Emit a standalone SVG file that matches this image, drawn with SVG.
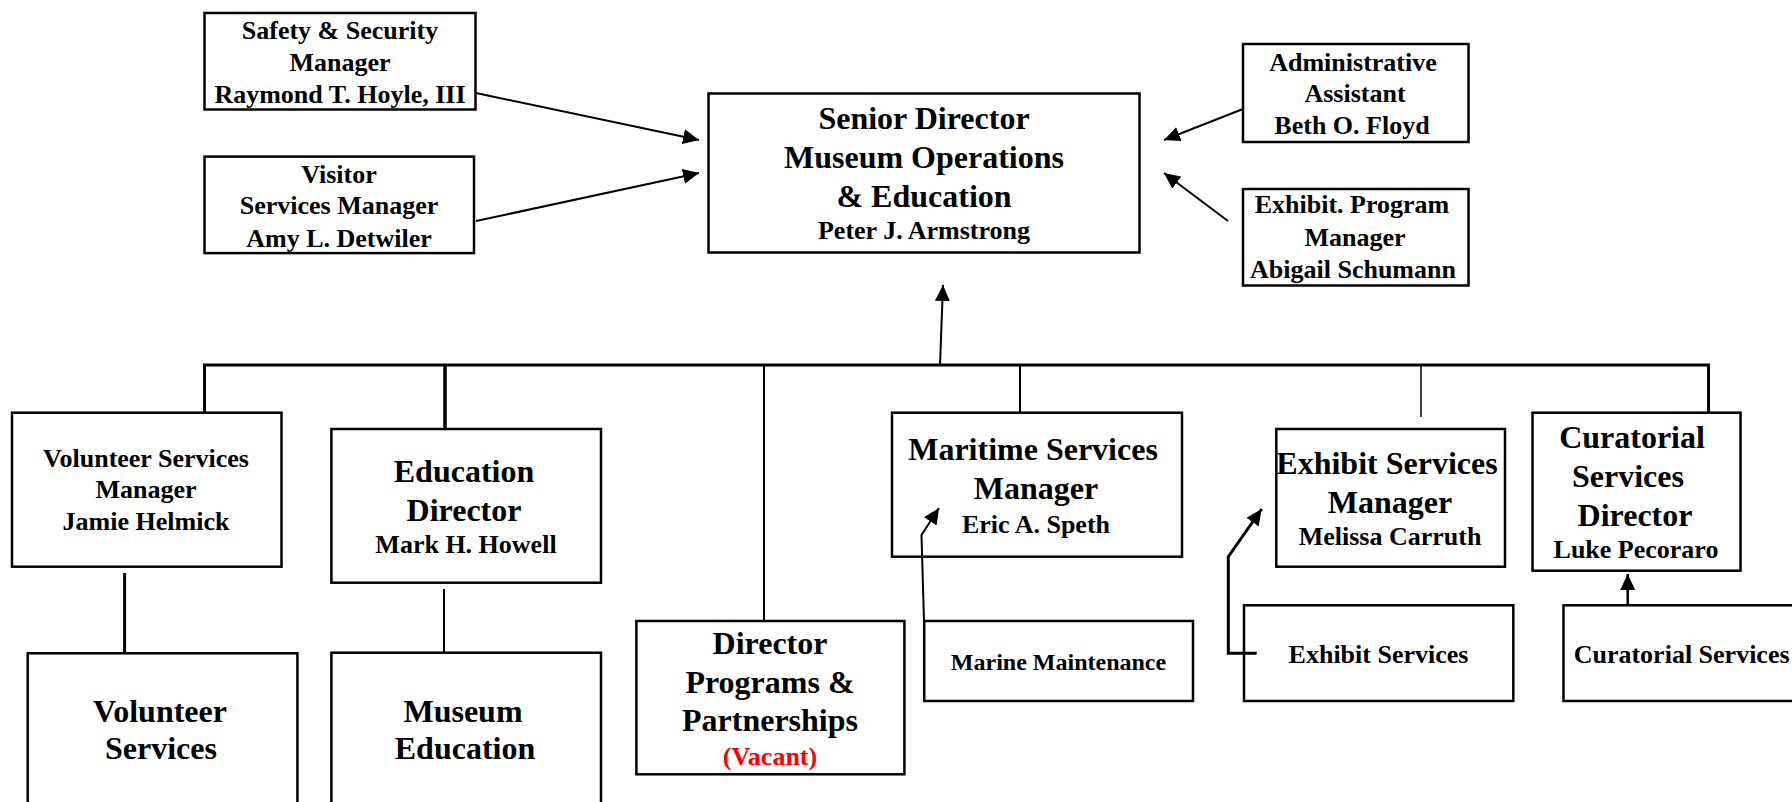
<svg xmlns="http://www.w3.org/2000/svg" width="1792" height="802" viewBox="0 0 1792 802">
<style>
.box{fill:#fff;stroke:#000;stroke-width:2.5}
text{font-family:"Liberation Serif","Times New Roman",serif;font-weight:bold;fill:#000;text-anchor:middle}
.t{font-size:32px}
.n{font-size:26px}
.s{font-size:24px}
.red{fill:#ff0000}
.ln{stroke:#000;fill:none}
</style>
<defs>
<marker id="ah" markerUnits="userSpaceOnUse" markerWidth="17" markerHeight="16" refX="16" refY="7.5" orient="auto">
<path d="M0,0 L16,7.5 L0,15 z" fill="#000"/>
</marker>
</defs>
<rect width="1792" height="802" fill="#fff"/>
<g id="safety">
<rect class="box" x="204.5" y="13" width="271" height="96.5"/>
<text class="n" x="340" y="39">Safety &amp; Security</text>
<text class="n" x="340" y="71">Manager</text>
<text class="n" x="340" y="103">Raymond T. Hoyle, III</text>
</g>
<g id="visitor">
<rect class="box" x="204.5" y="156.6" width="269.5" height="96.5"/>
<text class="n" x="339" y="182.7">Visitor</text>
<text class="n" x="339" y="214.3">Services Manager</text>
<text class="n" x="339" y="246.7">Amy L. Detwiler</text>
</g>
<g id="senior">
<rect class="box" x="708.5" y="93.5" width="431" height="159"/>
<text class="t" x="924" y="129.3">Senior Director</text>
<text class="t" x="924" y="167.7">Museum Operations</text>
<text class="t" x="924" y="206.7">&amp; Education</text>
<text class="n" x="924" y="239.3">Peter J. Armstrong</text>
</g>
<g id="admin">
<rect class="box" x="1243" y="44" width="225.5" height="98"/>
<text class="n" x="1353" y="70.7">Administrative</text>
<text class="n" x="1355" y="102.3">Assistant</text>
<text class="n" x="1352" y="134.3">Beth O. Floyd</text>
</g>
<g id="exhibit-program">
<rect class="box" x="1243" y="189" width="225.5" height="96.5"/>
<text class="n" x="1352" y="213.3">Exhibit. Program</text>
<text class="n" x="1355" y="245.7">Manager</text>
<text class="n" x="1353" y="277.7">Abigail Schumann</text>
</g>
<g id="volunteer-manager">
<rect class="box" x="12" y="412.7" width="269.5" height="154"/>
<text class="n" x="146" y="466.7">Volunteer Services</text>
<text class="n" x="146" y="498.3">Manager</text>
<text class="n" x="146" y="530">Jamie Helmick</text>
</g>
<g id="education-director">
<rect class="box" x="331.4" y="429" width="269.6" height="153.7"/>
<text class="t" x="464" y="481.7">Education</text>
<text class="t" x="464" y="520.7">Director</text>
<text class="n" x="466" y="553.3">Mark H. Howell</text>
</g>
<g id="volunteer-services">
<rect class="box" x="27.7" y="653.3" width="269.7" height="170"/>
<text class="t" x="160" y="721.7">Volunteer</text>
<text class="t" x="161" y="759.3">Services</text>
</g>
<g id="museum-education">
<rect class="box" x="331.4" y="652.7" width="269.6" height="170"/>
<text class="t" x="463" y="721.7">Museum</text>
<text class="t" x="465" y="759.3">Education</text>
</g>
<g id="director-programs">
<rect class="box" x="636.4" y="621" width="268" height="153.3"/>
<text class="t" x="770" y="654">Director</text>
<text class="t" x="770" y="693.3">Programs &amp;</text>
<text class="t" x="770" y="731">Partnerships</text>
<text class="n red" x="770" y="765">(Vacant)</text>
</g>
<g id="maritime">
<rect class="box" x="892" y="412.7" width="290" height="144"/>
<text class="t" x="1033" y="460">Maritime Services</text>
<text class="t" x="1036" y="499.3">Manager</text>
<text class="n" x="1036" y="532.7">Eric A. Speth</text>
</g>
<g id="marine-maintenance">
<rect class="box" x="924.2" y="621" width="268.8" height="80"/>
<text class="s" x="1058.5" y="670">Marine Maintenance</text>
</g>
<g id="exhibit-manager">
<rect class="box" x="1276.3" y="429" width="228.7" height="137.7"/>
<text class="t" x="1387" y="474">Exhibit Services</text>
<text class="t" x="1390" y="512.7">Manager</text>
<text class="n" x="1390" y="545">Melissa Carruth</text>
</g>
<g id="exhibit-services">
<rect class="box" x="1244" y="605.3" width="269.3" height="95.7"/>
<text class="n" x="1378.5" y="662.7">Exhibit Services</text>
</g>
<g id="curatorial-director">
<rect class="box" x="1532.5" y="412.7" width="208" height="158"/>
<text class="t" x="1632" y="448.3">Curatorial</text>
<text class="t" x="1628" y="486.7">Services</text>
<text class="t" x="1635" y="525.7">Director</text>
<text class="n" x="1636" y="558.3">Luke Pecoraro</text>
</g>
<g id="curatorial-services">
<rect class="box" x="1563.5" y="605.3" width="250" height="95.7"/>
<text class="n" x="1573.7" y="663.3" style="text-anchor:start">Curatorial Services</text>
</g>
<g id="connectors">
<line class="ln" x1="476" y1="93" x2="699" y2="140" stroke-width="2" marker-end="url(#ah)"/>
<line class="ln" x1="476" y1="221" x2="699" y2="173" stroke-width="2" marker-end="url(#ah)"/>
<line class="ln" x1="1243" y1="109" x2="1164" y2="140" stroke-width="2" marker-end="url(#ah)"/>
<line class="ln" x1="1228" y1="221" x2="1164" y2="173" stroke-width="2" marker-end="url(#ah)"/>
<line class="ln" x1="940" y1="365" x2="943" y2="285" stroke-width="2" marker-end="url(#ah)"/>
<line class="ln" x1="203" y1="365" x2="1710" y2="365" stroke-width="3"/>
<line class="ln" x1="204.5" y1="365" x2="204.5" y2="413" stroke-width="3"/>
<line class="ln" x1="445" y1="365" x2="445" y2="429" stroke-width="3.5"/>
<line class="ln" x1="764" y1="365" x2="764" y2="621" stroke-width="2"/>
<line class="ln" x1="1020" y1="365" x2="1020" y2="413" stroke-width="2"/>
<line class="ln" x1="1421" y1="365" x2="1421" y2="417" stroke-width="1.5"/>
<line class="ln" x1="1708.5" y1="365" x2="1708.5" y2="413" stroke-width="3"/>
<line class="ln" x1="124.6" y1="573" x2="124.6" y2="653" stroke-width="3"/>
<line class="ln" x1="444" y1="589" x2="444" y2="653" stroke-width="2"/>
<polyline class="ln" points="924,621 921.5,535 939,508" stroke-width="2" marker-end="url(#ah)"/>
<polyline class="ln" points="1256.7,653.3 1228.3,653.3 1228.3,556.7 1261.7,509" stroke-width="3" marker-end="url(#ah)"/>
<line class="ln" x1="1627.7" y1="605" x2="1627.7" y2="574" stroke-width="2.5" marker-end="url(#ah)"/>
</g>
</svg>
